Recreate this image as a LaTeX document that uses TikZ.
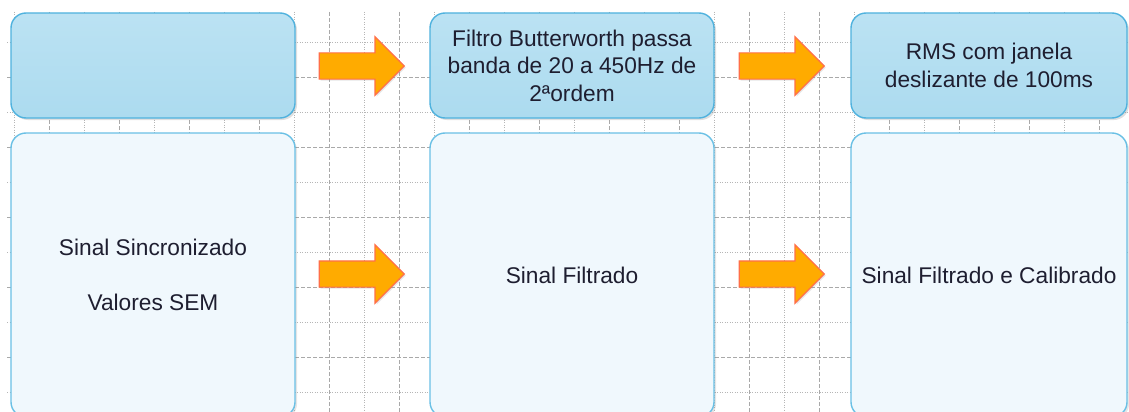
\documentclass[tikz,border=0pt]{standalone}
\usepackage{fontspec}
\setmainfont{Liberation Sans}
\usetikzlibrary{shapes.arrows}
\usetikzlibrary{shadows}
\definecolor{boxline}{HTML}{4FB2DE}
\definecolor{boxtop}{HTML}{BBE2F3}
\definecolor{boxmid}{HTML}{C6E7F6}
\definecolor{boxbot}{HTML}{ACDBEF}
\definecolor{sigfill}{HTML}{F0F8FD}
\definecolor{sigline}{HTML}{6AC0E5}
\definecolor{arrowfill}{HTML}{FFAB00}
\definecolor{arrowline}{HTML}{FF7048}
\definecolor{gridgray}{HTML}{A9A9A9}
\definecolor{inktext}{HTML}{1E1E30}
\tikzset{
x=1pt, y=-1pt, % pixel-like coordinates, y going down
stagebox/.style={draw=boxline, line width=1.4pt, rounded corners=15pt, top color=boxtop, middle color=boxmid, bottom color=boxbot, minimum height=105pt, align=center, text=inktext, drop shadow={shadow xshift=2pt, shadow yshift=-2pt, opacity=0.25}}, % upper row: processing steps
signalbox/.style={draw=sigline, line width=1.4pt, rounded corners=15pt, fill=sigfill, minimum height=284pt, align=center, text=inktext, drop shadow={shadow xshift=2pt, shadow yshift=-2pt, opacity=0.2}}, % lower row: signals
blockarrow/.style={single arrow, anchor=tip, draw=arrowline, line width=1.2pt, fill=arrowfill, minimum height=85pt, inner xsep=0pt, inner ysep=12.5pt, single arrow head extend=16pt, drop shadow={shadow xshift=1.5pt, shadow yshift=-1.5pt, opacity=0.2}}, % the orange arrows, placed by their tip
gridmajor/.style={gridgray, line width=0.9pt, dash pattern=on 4pt off 2pt},
gridminor/.style={gridgray!85, line width=0.9pt, dash pattern=on 1pt off 1.5pt},
}

\begin{document}
\begin{tikzpicture}[font=\fontsize{22.7}{27.5}\selectfont]
\useasboundingbox[fill=white] (0,0) rectangle (1129,412);
\clip (0,0) rectangle (1129,412);
% background grid
\foreach \gx in {14,84,...,1134} \draw[gridminor] (\gx,12) -- (\gx,412);
\foreach \gy in {42,112,...,412} \draw[gridminor] (7,\gy) -- (1129,\gy);
\foreach \gx in {49,119,...,1129} \draw[gridmajor] (\gx,12) -- (\gx,412);
\foreach \gy in {77,147,...,412} \draw[gridmajor] (7,\gy) -- (1129,\gy);
%PRE,BUTTER,RMS / SYNC,FILT,CAL
\node[stagebox, minimum width=284pt] (PRE) at (153,65.5) {};
\node[stagebox, minimum width=284pt] (BUTTER) at (572,65.5) {Filtro Butterworth passa\\banda de 20 a 450Hz de\\2ªordem};
\node[stagebox, minimum width=276pt] (RMS) at (989,65.5) {RMS com janela\\deslizante de 100ms};
\node[signalbox, minimum width=284pt] (SYNC) at (153,275) {Sinal Sincronizado\\[27.5pt]Valores SEM};
\node[signalbox, minimum width=284pt] (FILT) at (572,275) {Sinal Filtrado};
\node[signalbox, minimum width=276pt] (CAL) at (989,275) {Sinal Filtrado e Calibrado};
\node[blockarrow] (ARW1) at (405,66) {};
\node[blockarrow] (ARW2) at (825,66) {};
\node[blockarrow] (ARW3) at (405,274) {};
\node[blockarrow] (ARW4) at (825,274) {};
\end{tikzpicture}
\end{document}
